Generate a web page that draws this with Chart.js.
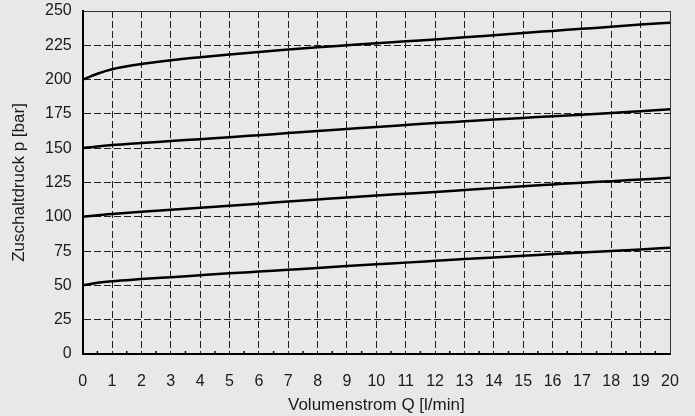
<!DOCTYPE html>
<html>
<head>
<meta charset="utf-8">
<script src="https://cdn.jsdelivr.net/npm/chart.js@4"></script>
<style>
  html, body { margin: 0; padding: 0; background: #e7e8ea; }
  #wrap { width: 695px; height: 416px; position: relative; }
</style>
</head>
<body>
<div id="wrap"><canvas id="pressureChart"></canvas></div>
<script>
// Volumenstrom Q [l/min]
const flow = [0, 0.5, 1, 2, 3, 4, 5, 6, 7, 8, 9, 10, 11, 12, 13, 14, 15, 16, 17, 18, 19, 20];

// Zuschaltdruck p [bar], one curve per setting
const p200 = [200, 204.3, 207.6, 211.4, 214.1, 216.3, 218.3, 220.2, 221.9, 223.5, 225, 226.5, 227.9, 229.3, 230.8, 232.4, 234, 235.5, 237, 238.5, 240.1, 241.5];
const p150 = [150, 151.3, 152.3, 153.8, 155.2, 156.6, 158, 159.5, 161, 162.5, 164, 165.5, 166.9, 168.3, 169.6, 170.9, 172.1, 173.3, 174.4, 175.6, 177, 178.4];
const p100 = [100, 101.2, 102.1, 103.6, 105.1, 106.6, 108.1, 109.6, 111.1, 112.6, 114.1, 115.5, 116.8, 118.1, 119.5, 120.9, 122.3, 123.6, 124.9, 126, 127.2, 128.4];
const p50  = [50, 51.9, 53.1, 54.6, 56, 57.4, 58.8, 60.1, 61.4, 62.7, 64.1, 65.4, 66.6, 67.9, 69.2, 70.4, 71.6, 72.8, 74, 75.1, 76.2, 77.4];

const yTicks = [0, 25, 50, 75, 100, 125, 150, 175, 200, 225, 250];

function toPoints(values) {
    return flow.map((q, i) => ({ x: q, y: values[i] }));
}

function curve(values) {
    return {
        data: toPoints(values),
        borderColor: '#000',
        borderWidth: 2.5,
        pointRadius: 0,
        fill: false,
        cubicInterpolationMode: 'monotone'
    };
}

// top and right frame lines plus little half-step ticks on the x axis
const frame = {
    id: 'frame',
    afterDraw(chart) {
        const ctx = chart.ctx;
        const a = chart.chartArea;
        const xs = chart.scales.x;
        ctx.save();
        ctx.strokeStyle = '#333';
        ctx.lineWidth = 1;
        ctx.beginPath();
        ctx.moveTo(a.left, a.top + 0.5);
        ctx.lineTo(a.right + 0.5, a.top + 0.5);
        ctx.lineTo(a.right + 0.5, a.bottom);
        ctx.stroke();

        ctx.strokeStyle = '#000';
        ctx.lineWidth = 1.5;
        ctx.beginPath();
        for (let q = 0.5; q < 20; q += 1) {
            const px = xs.getPixelForValue(q);
            ctx.moveTo(px, a.bottom);
            ctx.lineTo(px, a.bottom - 3);
        }
        ctx.stroke();
        ctx.restore();
    }
};

const font = 'Liberation Sans, Arial, sans-serif';

const ctx = document.getElementById('pressureChart').getContext('2d');
new Chart(ctx, {
    type: 'line',
    data: {
        datasets: [curve(p200), curve(p150), curve(p100), curve(p50)]
    },
    options: {
        responsive: true,
        maintainAspectRatio: false,
        animation: false,
        layout: { padding: { top: 11, right: 25, left: 11, bottom: 2 } },
        plugins: {
            legend: { display: false },
            tooltip: { enabled: false }
        },
        scales: {
            x: {
                type: 'linear',
                min: 0,
                max: 20,
                afterFit(scale) {
                    scale.height = 60;
                    scale.paddingLeft = 0;
                    scale.paddingRight = 0;
                },
                ticks: {
                    stepSize: 1,
                    color: '#1a1a1a',
                    padding: 20,
                    font: { family: font, size: 16, lineHeight: 1 }
                },
                grid: { color: '#1f1f1f', lineWidth: 1, drawTicks: false },
                border: { color: '#000', width: 2, dash: [7, 3] },
                title: {
                    display: true,
                    text: 'Volumenstrom Q [l/min]',
                    color: '#1a1a1a',
                    padding: { top: 0, bottom: 0 },
                    font: { family: font, size: 17, lineHeight: 1 }
                }
            },
            y: {
                min: 0,
                max: 250,
                afterBuildTicks(scale) {
                    scale.ticks = yTicks.map(v => ({ value: v }));
                },
                afterFit(scale) {
                    scale.paddingTop = 0;
                    scale.paddingBottom = 0;
                },
                ticks: {
                    color: '#1a1a1a',
                    padding: 11,
                    font: { family: font, size: 16, lineHeight: 1 }
                },
                grid: { color: '#1f1f1f', lineWidth: 1, drawTicks: false },
                border: { color: '#000', width: 2, dash: [7, 3] },
                title: {
                    display: true,
                    text: 'Zuschaltdruck p [bar]',
                    color: '#1a1a1a',
                    padding: { top: 0, bottom: 6 },
                    font: { family: font, size: 17, lineHeight: 1 }
                }
            }
        }
    },
    plugins: [frame]
});
</script>
</body>
</html>
